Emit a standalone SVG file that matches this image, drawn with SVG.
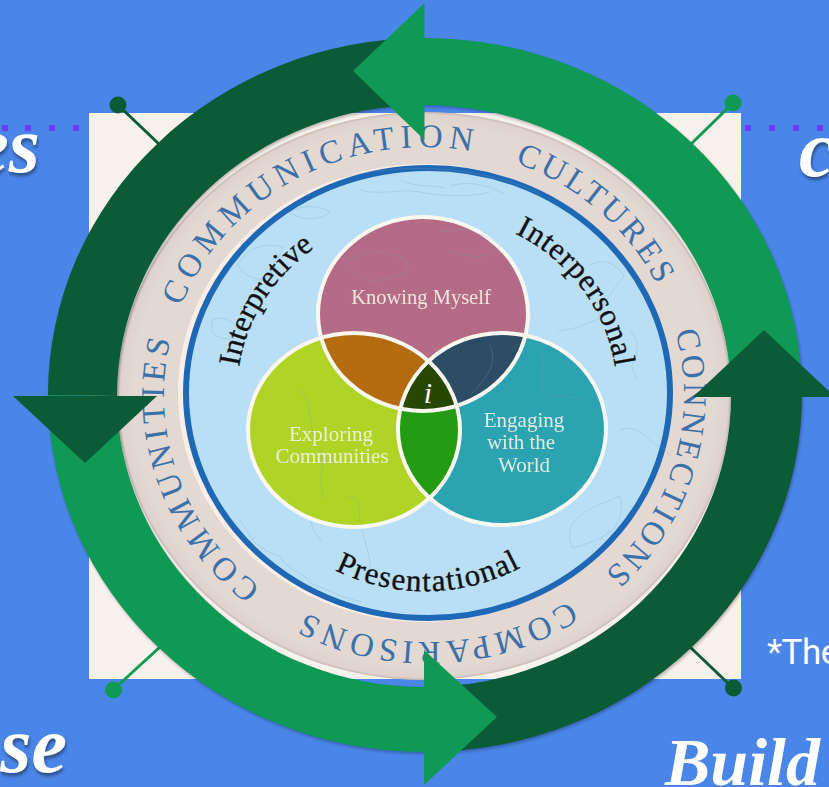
<svg xmlns="http://www.w3.org/2000/svg" width="829" height="787" viewBox="0 0 829 787">
<style>
.dark{fill:#0a5b36}.light{fill:#0f9955}
.ds{stroke:#0a5b36}.ls{stroke:#0f9955}
.script{font-family:"Liberation Serif",serif;font-style:italic;font-weight:bold;fill:#fff;font-size:80px}
.ring{font-family:"Liberation Serif",serif;font-size:33px;fill:#3b70a8}
.aspect{font-family:"Liberation Serif",serif;fill:#111;font-size:31px;stroke:#111;stroke-width:.35}
.lab{font-family:"Liberation Serif",serif;fill:#f2f2e4;font-size:21px;text-anchor:middle;opacity:.92}
.map{fill:none;stroke:#7f9db5;stroke-width:.7;opacity:.4}
.venn{fill:none;stroke:#fbf8f2;stroke-width:4}
.dot{fill:#6a3df5}
</style>
<defs>
<filter id="blur" x="-5%" y="-5%" width="110%" height="110%"><feGaussianBlur stdDeviation="1.500"/></filter>
<filter id="ts" x="-20%" y="-20%" width="140%" height="140%" color-interpolation-filters="sRGB"><feDropShadow dx="1" dy="3" stdDeviation="1.500" flood-color="#000" flood-opacity=".4"/></filter>
<radialGradient id="disc"><stop offset=".95" stop-color="#e3d8d2"/><stop offset=".99" stop-color="#dfd3cc"/><stop offset="1" stop-color="#c6bab3"/></radialGradient>
<clipPath id="cPink"><ellipse cx="423" cy="314" rx="105" ry="97"/></clipPath>
<clipPath id="cLime"><ellipse cx="354" cy="430" rx="106" ry="97"/></clipPath>
<path id="t1" d="M181,306.600A260,247 0 0 1 590,204"/>
<path id="t2" d="M514.900,162.900A257,247 0 0 1 680.100,352.100"/>
<path id="t3" d="M675.300,331.500A257,247 0 0 1 555.500,608.900"/>
<path id="t4" d="M569.100,600.800A257,247 0 0 1 230.100,553.800"/>
<path id="t5" d="M261,587.400A260,247 0 0 1 211,253.200"/>
<path id="a1" d="M239,367A190,180 0 0 1 492,224"/>
<path id="a2" d="M515,233.500A190,180 0 0 1 591.500,483"/>
<path id="a3" d="M335,570A200,197 0 0 0 560,540"/>
</defs>
<rect width="829" height="787" fill="#4a85e8"/>
<g id="dotted-line-left" class="dot"><rect x="2" y="125" width="6" height="6"/><rect x="25" y="125" width="6" height="6"/><rect x="49" y="125" width="6" height="6"/><rect x="73" y="125" width="6" height="6"/></g>
<g id="dotted-line-right" class="dot"><rect x="745" y="125" width="6" height="6"/><rect x="769" y="125" width="6" height="6"/><rect x="793" y="125" width="6" height="6"/><rect x="817" y="125" width="6" height="6"/></g>
<text id="label-left" class="script" x="40" y="172" text-anchor="end" filter="url(#ts)">es</text>
<text id="label-right" class="script" x="799" y="176" filter="url(#ts)">c</text>
<text id="label-bottom-left" class="script" x="67" y="772" text-anchor="end" filter="url(#ts)">se</text>
<text id="label-bottom-right" class="script" x="665" y="785" style="font-size:68px">Build</text>
<text id="note" x="767" y="664" font-family="Roboto,sans-serif" font-size="35" letter-spacing="-.5" fill="#fff">*The</text>
<rect id="image-backdrop" x="89" y="113" width="652" height="566" fill="#f9f1ec"/>
<g id="connectors" stroke-width="3" fill="none">
<path class="ds" d="M118,105L160,145"/>
<path class="ls" d="M733,103L689,146"/>
<path class="ls" d="M113,690L160,647"/>
<path class="ds" d="M733,688L689,646"/>
</g>
<g id="handles">
<circle class="dark" cx="118" cy="105" r="8.500"/>
<circle class="light" cx="733" cy="103" r="8.500"/>
<circle class="light" cx="113.500" cy="690" r="8.500"/>
<circle class="dark" cx="733.500" cy="688" r="8.500"/>
</g>
<g id="standards-disc">
<ellipse cx="424" cy="396" rx="307" ry="284" fill="url(#disc)"/>
<ellipse cx="424" cy="393" rx="246" ry="229" fill="#fbeee6"/>
<ellipse cx="428" cy="393" rx="242" ry="225" fill="#b9dff7" stroke="#1f68b5" stroke-width="6"/>
<g id="world-map">
<path class="map" d="M340,178c30,-8 70,-12 110,-8c40,4 70,14 90,24M360,190c20,6 40,-2 60,2s50,6 70,0M400,180c15,8 30,4 45,8M450,186c20,-6 40,0 55,8"/>
<path class="map" d="M238,265c10,-20 30,-22 45,-18c-2,12 -16,18 -10,28c-10,8 -28,4 -35,-10zM212,320c14,-6 24,4 28,14c-8,8 -20,6 -28,-2zM290,212c14,-8 30,-6 40,0c-8,8 -28,10 -40,0z"/>
<path class="map" d="M240,520c10,18 18,30 40,36c6,14 24,16 32,28c12,4 30,14 50,18M300,470c-6,14 4,30 12,44c-4,10 4,20 10,28M362,528c2,14 10,30 8,44"/>
<path class="map" d="M590,265c14,-8 26,0 34,10c-8,14 -22,26 -26,44c-10,4 -20,10 -40,12M630,330c8,10 10,22 2,34c-2,6 6,10 4,16M620,430c10,-4 18,0 26,6c6,10 20,10 24,20M575,520c14,-14 30,-16 44,-24c6,8 0,28 -6,34c-12,8 -24,14 -40,18c-4,-8 -6,-18 2,-28z"/>
</g>
<ellipse cx="423" cy="314" rx="105" ry="97" fill="#b56b86"/>
<ellipse cx="354" cy="430" rx="106" ry="97" fill="#b0d426"/>
<ellipse cx="502" cy="429" rx="104" ry="96" fill="#2ca3b1"/>
<g clip-path="url(#cPink)"><ellipse cx="354" cy="430" rx="106" ry="97" fill="#b56c10"/><ellipse cx="502" cy="429" rx="104" ry="96" fill="#2c4d63"/></g>
<g clip-path="url(#cLime)"><ellipse cx="502" cy="429" rx="104" ry="96" fill="#239b12"/></g>
<g clip-path="url(#cPink)"><g clip-path="url(#cLime)"><ellipse cx="502" cy="429" rx="104" ry="96" fill="#274803"/></g></g>
<ellipse class="venn" cx="423" cy="314" rx="105" ry="97"/>
<ellipse class="venn" cx="354" cy="430" rx="106" ry="97"/>
<ellipse class="venn" cx="502" cy="429" rx="104" ry="96"/>
<path class="map" d="M345,262c20,-14 44,-10 60,-4c10,12 -8,22 -20,20c-12,8 -30,-2 -40,-16zM440,232c20,-6 44,0 60,14c-8,14 -34,12 -50,4M300,390c14,10 6,40 20,60c8,16 -6,30 6,50M345,500c12,-10 16,8 14,24M490,345c8,20 -4,34 -20,50M540,350c8,14 -4,30 6,44c14,8 24,-4 40,10"/>
<text class="lab" x="421" y="304" style="font-size:20.500px">Knowing Myself</text>
<text class="lab"><tspan x="331" y="441">Exploring</tspan><tspan x="332" y="463">Communities</tspan></text>
<text class="lab"><tspan x="524" y="427">Engaging</tspan><tspan x="521" y="449">with the</tspan><tspan x="524" y="472">World</tspan></text>
<text x="428" y="403" font-family="Liberation Serif,serif" font-style="italic" font-size="30" fill="#fff" text-anchor="middle">i</text>
<text class="ring" letter-spacing="6"><textPath href="#t1">COMMUNICATION</textPath></text>
<text class="ring" letter-spacing="3.400"><textPath href="#t2">CULTURES</textPath></text>
<text class="ring" letter-spacing="3.200"><textPath href="#t3">CONNECTIONS</textPath></text>
<text class="ring" letter-spacing="4.400"><textPath href="#t4">COMPARISONS</textPath></text>
<text class="ring" letter-spacing="4.600"><textPath href="#t5">COMMUNITIES</textPath></text>
<text class="aspect"><textPath href="#a1">Interpretive</textPath></text>
<text class="aspect" letter-spacing=".8"><textPath href="#a2">Interpersonal</textPath></text>
<text class="aspect" letter-spacing="1.300"><textPath href="#a3">Presentational</textPath></text>
</g>
<g id="cycle-arrows">
<path id="ring-shadow" fill="#000" fill-rule="evenodd" opacity=".25" filter="url(#blur)" transform="translate(1,2)" d="M48,395A377,357 0 1 0 802,395A377,357 0 1 0 48,395ZM117,396A307,291 0 1 1 731,396A307,291 0 1 1 117,396Z"/>
<path id="arc-top-left" class="dark" d="M424,38A377,357 0 0 0 48,395L117,396A307,291 0 0 1 424,105Z"/>
<path id="arc-bottom-left" class="light" d="M48,395A377,357 0 0 0 424,752L424,687A307,291 0 0 1 117,396Z"/>
<path id="arc-bottom-right" class="dark" d="M424,752A377,357 0 0 0 802,395L731,396A307,291 0 0 1 424,687Z"/>
<path id="arc-top-right" class="light" d="M802,395A377,357 0 0 0 424,38L424,105A307,291 0 0 1 731,396Z"/>
<polygon id="head-top" class="light" points="424.500,3 424.500,140 353,71"/>
<polygon id="head-left" class="dark" points="13,396 157,396 85,463"/>
<polygon id="head-bottom" class="light" points="424,650 424,785 497,717"/>
<polygon id="head-right" class="dark" points="693,397 835,397 764,330"/>
</g>
</svg>
